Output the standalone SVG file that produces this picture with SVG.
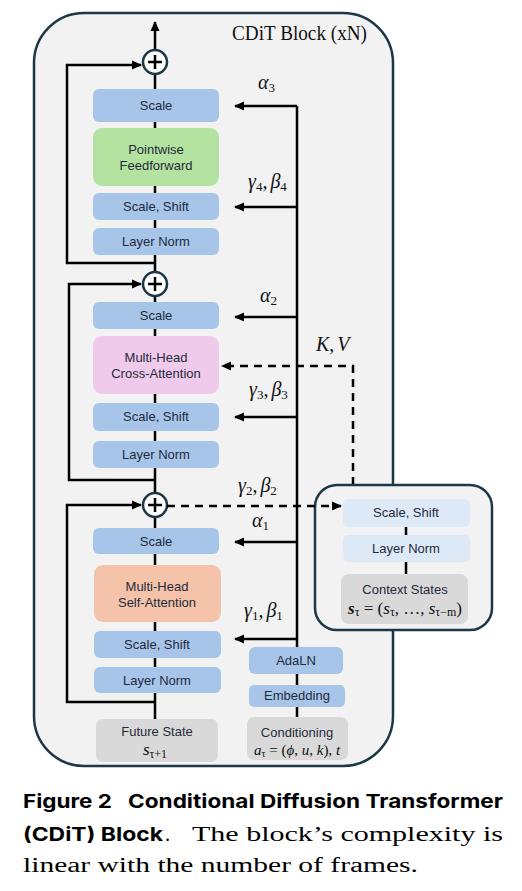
<svg xmlns="http://www.w3.org/2000/svg" width="522" height="891" viewBox="0 0 522 891">
<defs>
<marker id="ah" viewBox="0 0 10 10" refX="9" refY="5" markerWidth="10" markerHeight="10" markerUnits="userSpaceOnUse" orient="auto">
<path d="M0,0.5 L10,5 L0,9.5 Z" fill="#000"/>
</marker>
<style>
.frame{fill:#f2f2f2;stroke:#1c3847;stroke-width:2.5}
.blue{fill:#a6c5e9}
.lblue{fill:#dde9f6}
.green{fill:#b4e3a1}
.pink{fill:#efcaea}
.peach{fill:#f4c3a9}
.gray{fill:#d9d9d9}
.bt{font-family:"Liberation Sans",Arial,sans-serif;font-size:13px;fill:#1f2b3b;text-anchor:middle}
.m{font-family:"Liberation Serif","DejaVu Serif",serif;font-style:italic;font-size:20px;fill:#111}
.sub{font-style:normal;font-size:13px}
.ms{font-family:"Liberation Serif","DejaVu Serif",serif;font-style:italic;font-size:17px;fill:#111;text-anchor:middle}
.ss{font-style:normal;font-size:12px}
.ln{fill:none;stroke:#000;stroke-width:2.5}
.dash{fill:none;stroke:#000;stroke-width:2.5;stroke-dasharray:8 6}
.circ{fill:#fff;stroke:#1c3847;stroke-width:2.5}
.cap{font-family:Inter,"Liberation Sans",sans-serif;font-weight:700;font-size:19px;fill:#000}
.capr{font-family:"Liberation Serif","DejaVu Serif",serif;font-size:20.5px;fill:#000}
</style>
</defs>
<rect width="522" height="891" fill="#fff"/>
<g id="cdit-block">
<rect class="frame" x="34" y="13" width="359" height="753" rx="50"/>
<text x="232" y="40" font-family="Liberation Serif,serif" font-size="20" fill="#111" textLength="135" lengthAdjust="spacingAndGlyphs">CDiT Block (xN)</text>
</g>
<g id="connectors">
<path class="ln" d="M155 719 V22" marker-end="url(#ah)"/>
<path class="ln" d="M155 263 H67 V65 H141" marker-end="url(#ah)"/>
<path class="ln" d="M155 480 H69 V284 H141" marker-end="url(#ah)"/>
<path class="ln" d="M155 702 H67 V505 H141" marker-end="url(#ah)"/>
<path class="ln" d="M297 717 V106"/>
<path class="ln" d="M297 106 H235" marker-end="url(#ah)"/>
<path class="ln" d="M297 207 H235" marker-end="url(#ah)"/>
<path class="ln" d="M297 317 H235" marker-end="url(#ah)"/>
<path class="ln" d="M297 417 H235" marker-end="url(#ah)"/>
<path class="ln" d="M297 542 H235" marker-end="url(#ah)"/>
<path class="ln" d="M297 639 H235" marker-end="url(#ah)"/>
<path class="dash" d="M353 485 V366 H222" marker-end="url(#ah)"/>
</g>
<g id="plus1"><circle class="circ" cx="155" cy="62" r="12"/><path class="ln" d="M148 62 H162 M155 55 V69"/></g>
<g id="plus2"><circle class="circ" cx="155" cy="284" r="12"/><path class="ln" d="M148 284 H162 M155 277 V291"/></g>
<g id="plus3"><circle class="circ" cx="155" cy="505" r="12"/><path class="ln" d="M148 505 H162 M155 498 V512"/></g>
<g id="scale3"><rect class="blue" x="93" y="89" width="126" height="33" rx="6"/><text class="bt" x="156" y="110">Scale</text></g>
<g id="ffn"><rect class="green" x="93" y="128" width="126" height="58" rx="9"/><text class="bt" x="156" y="154">Pointwise</text><text class="bt" x="156" y="170">Feedforward</text></g>
<g id="scaleshift4"><rect class="blue" x="93" y="193" width="126" height="27" rx="6"/><text class="bt" x="156" y="211">Scale, Shift</text></g>
<g id="layernorm3"><rect class="blue" x="93" y="228" width="126" height="27" rx="6"/><text class="bt" x="156" y="246">Layer Norm</text></g>
<g id="scale2"><rect class="blue" x="93" y="302" width="126" height="27" rx="6"/><text class="bt" x="156" y="320">Scale</text></g>
<g id="cross-attn"><rect class="pink" x="93" y="336" width="126" height="58" rx="9"/><text class="bt" x="156" y="362">Multi-Head</text><text class="bt" x="156" y="378">Cross-Attention</text></g>
<g id="scaleshift3"><rect class="blue" x="93" y="403" width="126" height="28" rx="6"/><text class="bt" x="156" y="421">Scale, Shift</text></g>
<g id="layernorm2"><rect class="blue" x="93" y="441" width="126" height="27" rx="6"/><text class="bt" x="156" y="459">Layer Norm</text></g>
<g id="scale1"><rect class="blue" x="93" y="528" width="126" height="26" rx="6"/><text class="bt" x="156" y="546">Scale</text></g>
<g id="self-attn"><rect class="peach" x="94" y="565" width="127" height="57" rx="9"/><text class="bt" x="157" y="591">Multi-Head</text><text class="bt" x="157" y="607">Self-Attention</text></g>
<g id="scaleshift1"><rect class="blue" x="94" y="631" width="127" height="27" rx="6"/><text class="bt" x="157" y="649">Scale, Shift</text></g>
<g id="layernorm1"><rect class="blue" x="94" y="667" width="127" height="26" rx="6"/><text class="bt" x="157" y="685">Layer Norm</text></g>
<g id="future-state"><rect class="gray" x="96" y="719" width="122" height="43" rx="7"/><text class="bt" x="157" y="736">Future State</text><text class="ms" x="155" y="755">s<tspan class="ss" dy="3">τ+1</tspan></text></g>
<g id="adaln"><rect class="blue" x="249" y="647" width="94" height="27" rx="6"/><text class="bt" x="296" y="665">AdaLN</text></g>
<g id="embedding"><rect class="blue" x="249" y="685" width="96" height="22" rx="5"/><text class="bt" x="297" y="700">Embedding</text></g>
<g id="conditioning"><rect class="gray" x="247" y="717" width="101" height="43" rx="7"/><text class="bt" x="297" y="737">Conditioning</text><text class="ms" x="297" y="755" style="font-size:15px">a<tspan class="ss" style="font-size:10px" dy="2">τ</tspan><tspan dy="-2" font-style="normal"> = (</tspan>ϕ<tspan font-style="normal">, </tspan>u<tspan font-style="normal">, </tspan>k<tspan font-style="normal">), </tspan>t</text></g>
<g id="labels">
<text class="m" x="258" y="89">α<tspan class="sub" dy="3">3</tspan></text>
<text class="m" x="248" y="188">γ<tspan class="sub" dy="3">4</tspan><tspan dy="-3" font-style="normal">,</tspan><tspan dx="3">β</tspan><tspan class="sub" dy="3">4</tspan></text>
<text class="m" x="260" y="302">α<tspan class="sub" dy="3">2</tspan></text>
<text class="m" x="316" y="351">K<tspan font-style="normal">,</tspan><tspan dx="3">V</tspan></text>
<text class="m" x="249" y="396">γ<tspan class="sub" dy="3">3</tspan><tspan dy="-3" font-style="normal">,</tspan><tspan dx="3">β</tspan><tspan class="sub" dy="3">3</tspan></text>
<text class="m" x="238" y="492">γ<tspan class="sub" dy="3">2</tspan><tspan dy="-3" font-style="normal">,</tspan><tspan dx="3">β</tspan><tspan class="sub" dy="3">2</tspan></text>
<text class="m" x="252" y="527">α<tspan class="sub" dy="3">1</tspan></text>
<text class="m" x="244" y="617">γ<tspan class="sub" dy="3">1</tspan><tspan dy="-3" font-style="normal">,</tspan><tspan dx="3">β</tspan><tspan class="sub" dy="3">1</tspan></text>
</g>
<g id="context-block">
<rect class="frame" x="315" y="485" width="177" height="145" rx="22"/>
<path class="ln" d="M406 527 V535 M406 562 V574"/>
<g id="ctx-scaleshift"><rect class="lblue" x="343" y="499" width="127" height="28" rx="5"/><text class="bt" x="406" y="517">Scale, Shift</text></g>
<g id="ctx-layernorm"><rect class="lblue" x="343" y="535" width="127" height="27" rx="5"/><text class="bt" x="406" y="553">Layer Norm</text></g>
<g id="context-states"><rect class="gray" x="341" y="574" width="127" height="50" rx="8"/><text class="bt" x="405" y="594">Context States</text><text class="ms" x="405" y="614"><tspan font-weight="bold">s</tspan><tspan class="ss" dy="2">τ</tspan><tspan dy="-2" font-style="normal"> = (</tspan>s<tspan class="ss" dy="2">τ</tspan><tspan dy="-2" font-style="normal">, …, </tspan>s<tspan class="ss" dy="2">τ−m</tspan><tspan dy="-2" font-style="normal">)</tspan></text></g>
</g>
<g id="ctx-connector">
<path class="dash" d="M167 506 H341" marker-end="url(#ah)"/>
</g>
<g id="caption">
<text class="cap" x="23" y="808" textLength="89" lengthAdjust="spacingAndGlyphs">Figure 2</text>
<text class="cap" x="128" y="808" textLength="375" lengthAdjust="spacingAndGlyphs">Conditional Diffusion Transformer</text>
<text class="cap" x="23" y="841" textLength="140" lengthAdjust="spacingAndGlyphs">(CDiT) Block</text>
<text class="capr" x="165" y="841">.</text>
<text class="capr" x="192" y="841" textLength="311" lengthAdjust="spacingAndGlyphs">The block’s complexity is</text>
<text class="capr" x="23" y="872" textLength="395" lengthAdjust="spacingAndGlyphs">linear with the number of frames.</text>
</g>
</svg>
